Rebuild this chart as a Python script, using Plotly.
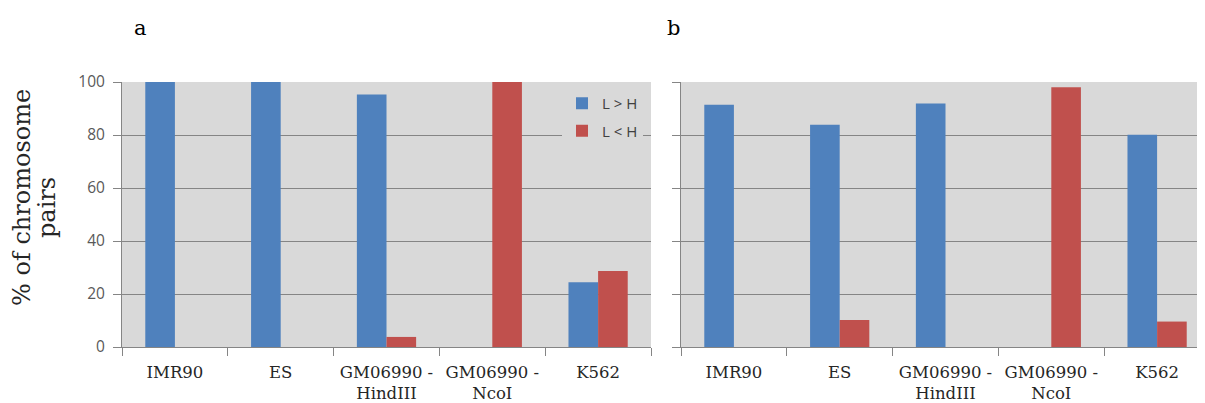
import plotly.graph_objects as go

categories = ["IMR90", "ES", "GM06990 -<br>HindIII", "GM06990 -<br>NcoI", "K562"]
series_names = ["L > H", "L < H"]
a_l_gt_h = [100, 100, 95.3, 0, 24.4]
a_l_lt_h = [0, 0, 3.8, 100, 28.7]
b_l_gt_h = [91.4, 83.9, 91.9, 0, 80.1]
b_l_lt_h = [0, 10.2, 0, 98, 9.6]
y_ticks = [0, 20, 40, 60, 80, 100]

BLUE = "#4f81bd"
RED = "#c0504d"
GRID = "#858585"
SERIF = "DejaVu Serif"
W, H = 1205, 403
OFF = 8  # browser body margin
TOP, BOT = 82 - OFF, 347 - OFF


def px_x(x):
    return (x - OFF) / W


def py(y):
    return (BOT - (y - OFF)) / (BOT - TOP)


fig = go.Figure()
fig.add_trace(go.Bar(x=categories, y=a_l_gt_h, name=series_names[0], legendgroup="g1",
                     marker=dict(color=BLUE, line=dict(width=0)), xaxis="x", yaxis="y"))
fig.add_trace(go.Bar(x=categories, y=a_l_lt_h, name=series_names[1], legendgroup="g2",
                     marker=dict(color=RED, line=dict(width=0)), xaxis="x", yaxis="y"))
fig.add_trace(go.Bar(x=categories, y=b_l_gt_h, name=series_names[0], showlegend=False,
                     marker=dict(color=BLUE, line=dict(width=0)), xaxis="x2", yaxis="y2"))
fig.add_trace(go.Bar(x=categories, y=b_l_lt_h, name=series_names[1], showlegend=False,
                     marker=dict(color=RED, line=dict(width=0)), xaxis="x2", yaxis="y2"))

xcommon = dict(type="category", showline=True, linecolor=GRID, linewidth=1,
               ticks="outside", tickson="boundaries", ticklen=8, tickcolor=GRID,
               ticklabelstandoff=10,
               tickfont=dict(family=SERIF, size=16.5, color="#262626"), showgrid=False)
ycommon = dict(range=[0, 100], tickvals=y_ticks, showline=True, linecolor=GRID, linewidth=1,
               ticks="outside", ticklen=8, tickcolor=GRID, showgrid=True, gridcolor=GRID,
               gridwidth=1, zeroline=False)

fig.update_layout(
    width=W, height=H,
    margin=dict(l=0, r=0, t=TOP, b=H - BOT),
    paper_bgcolor="white",
    plot_bgcolor="#d9d9d9",
    barmode="group", bargap=0.44, bargroupgap=0,
    xaxis=dict(domain=[px_x(122), px_x(651)], anchor="y", **xcommon),
    yaxis=dict(domain=[0, 1], anchor="x", ticklabelstandoff=5,
               tickfont=dict(family="Open Sans", size=15.5, color="#595959"), **ycommon),
    xaxis2=dict(domain=[px_x(681), px_x(1210)], anchor="y2", **xcommon),
    yaxis2=dict(domain=[0, 1], anchor="x2", showticklabels=False, **ycommon),
    showlegend=True,
    legend=dict(x=px_x(562), y=py(87), xref="paper", yref="paper",
                xanchor="left", yanchor="top", bgcolor="#d9d9d9",
                font=dict(family="Open Sans", size=15, color="#404040"),
                traceorder="grouped", tracegroupgap=5, itemwidth=30),
    annotations=[
        dict(text="a", x=px_x(140), y=py(28), xref="paper", yref="paper",
             showarrow=False, font=dict(family=SERIF, size=21, color="black"),
             xanchor="center", yanchor="middle"),
        dict(text="b", x=px_x(673), y=py(28), xref="paper", yref="paper",
             showarrow=False, font=dict(family=SERIF, size=21, color="black"),
             xanchor="center", yanchor="middle"),
        dict(text="% of chromosome", x=px_x(22), y=py(198), xref="paper", yref="paper",
             showarrow=False, textangle=-90, font=dict(family=SERIF, size=24, color="#262626"),
             xanchor="center", yanchor="middle"),
        dict(text="pairs", x=px_x(47), y=py(208), xref="paper", yref="paper",
             showarrow=False, textangle=-90, font=dict(family=SERIF, size=24, color="#262626"),
             xanchor="center", yanchor="middle"),
    ],
)

fig.write_html("out.html")
